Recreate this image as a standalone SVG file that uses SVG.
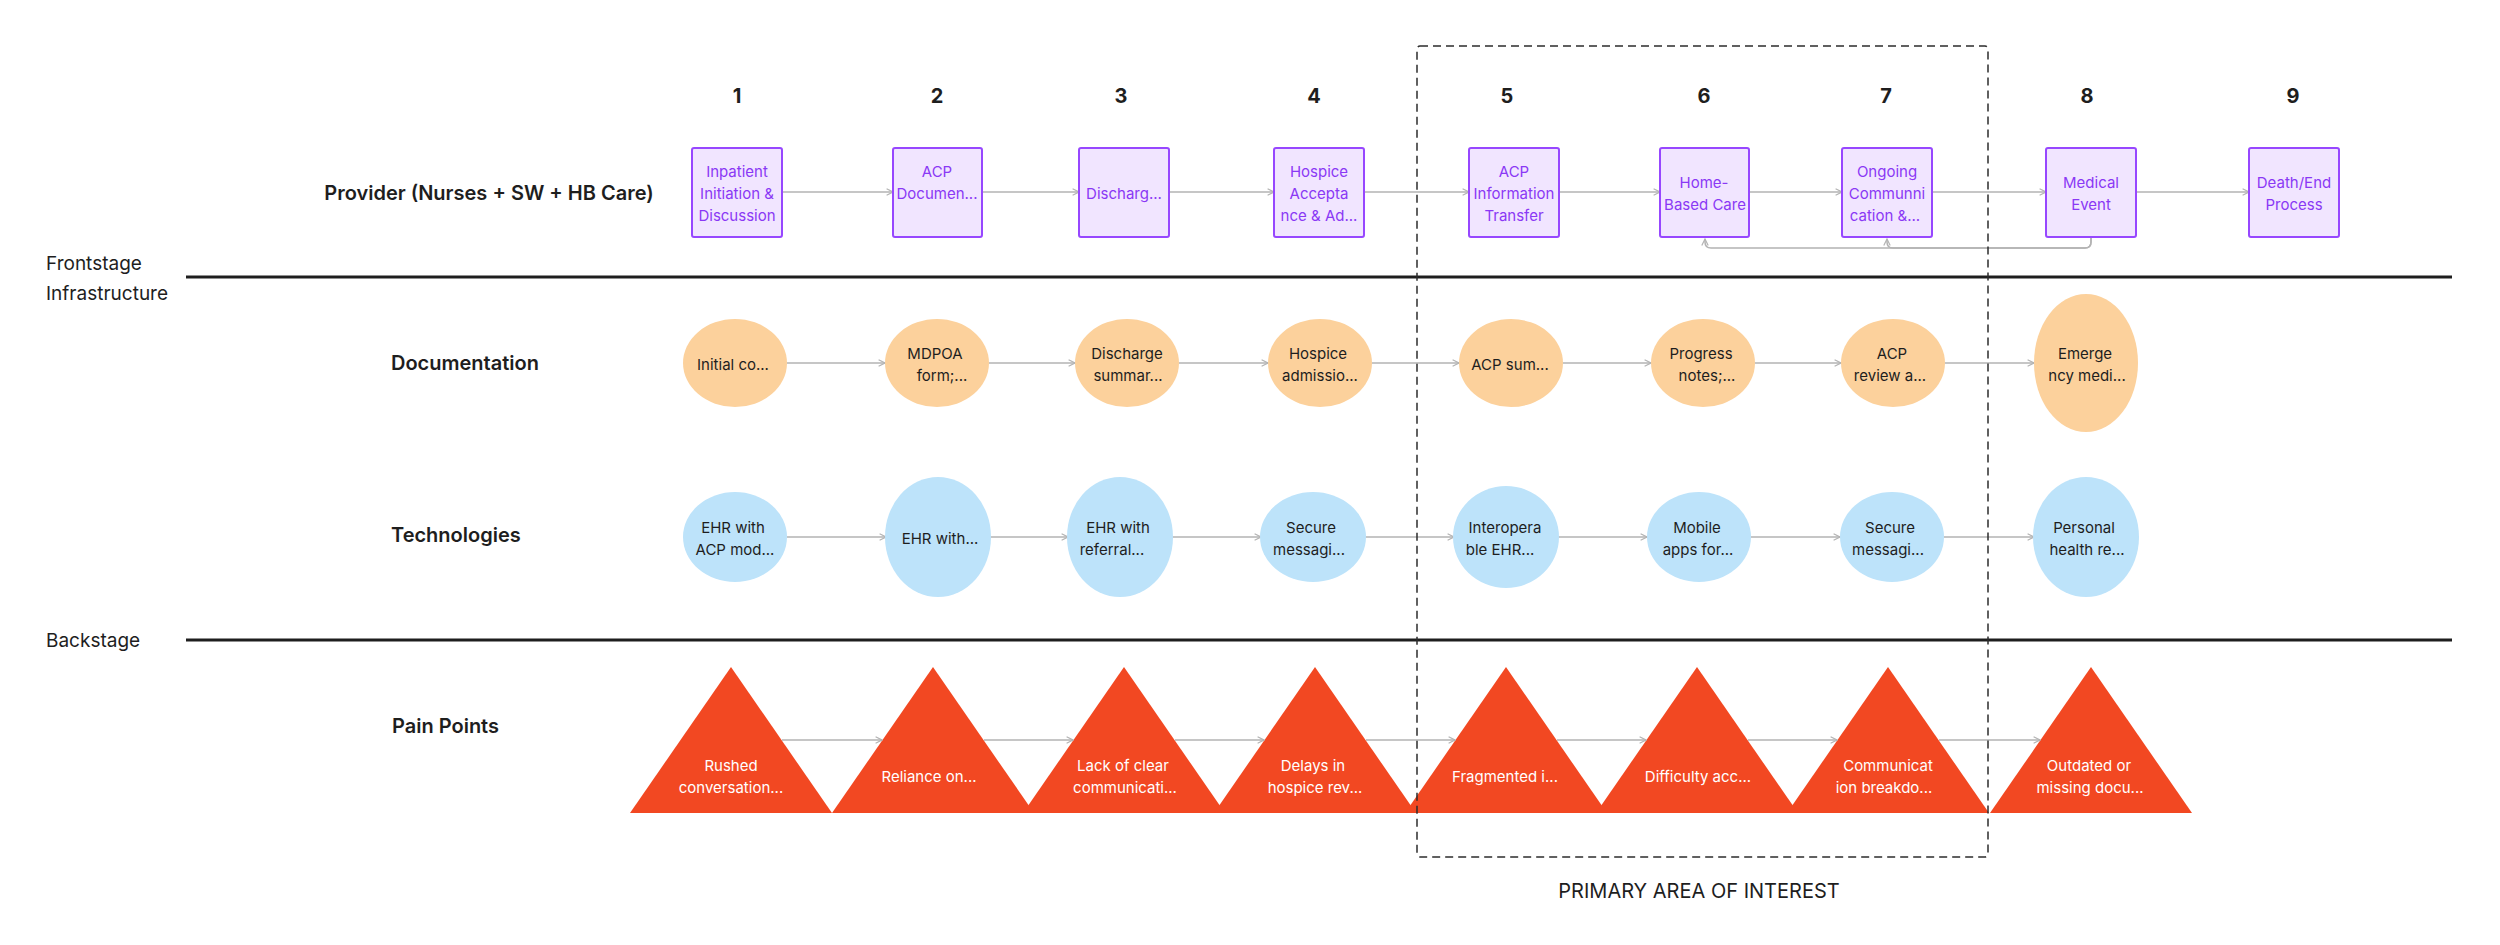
<svg xmlns="http://www.w3.org/2000/svg" width="2500" height="945" viewBox="0 0 2500 945">
<style>
text{font-family:Inter,"Noto Sans","Liberation Sans",sans-serif;dominant-baseline:central}
.num{font-size:20px;font-weight:700;fill:#1e1e1e;text-anchor:middle}
.row{font-size:20px;font-weight:600;fill:#1e1e1e}
.side{font-size:19px;fill:#1e1e1e}
.box{fill:#f1e5ff;stroke:#9747ff;stroke-width:2}
.bt{font-size:15px;fill:#8a38f5;text-anchor:middle}
.org{fill:#fcd19c}
.blu{fill:#bde3fa}
.et{font-size:15px;fill:#1e1e1e;text-anchor:middle}
.tri{fill:#f24822}
.tt{font-size:15px;fill:#ffffff;text-anchor:middle}
.con{fill:none;stroke:#b3b3b3;stroke-width:1.5;marker-end:url(#ah)}
.div{stroke:#1e1e1e;stroke-width:3}
</style>
<defs>
<marker id="ah" viewBox="0 0 10 10" refX="9" refY="5" markerWidth="8" markerHeight="8" markerUnits="userSpaceOnUse" orient="auto">
<path d="M1,1 L9,5 L1,9" fill="none" stroke="#b3b3b3" stroke-width="1.5"/>
</marker>
</defs>
<rect width="2500" height="945" fill="#ffffff"/>

<g id="labels">
<text class="num" x="737" y="96">1</text>
<text class="num" x="937" y="96">2</text>
<text class="num" x="1121" y="96">3</text>
<text class="num" x="1314" y="96">4</text>
<text class="num" x="1507" y="96">5</text>
<text class="num" x="1704" y="96">6</text>
<text class="num" x="1886" y="96">7</text>
<text class="num" x="2087" y="96">8</text>
<text class="num" x="2293" y="96">9</text>
<text class="row" x="489" y="193" text-anchor="middle">Provider (Nurses + SW + HB Care)</text>
<text class="row" x="391" y="363">Documentation</text>
<text class="row" x="391" y="535">Technologies</text>
<text class="row" x="392" y="726">Pain Points</text>
<text class="side" x="46" y="263">Frontstage</text>
<text class="side" x="46" y="293">Infrastructure</text>
<text class="side" x="46" y="640">Backstage</text>
<text x="1699" y="891" font-size="20" fill="#1e1e1e" text-anchor="middle">PRIMARY AREA OF INTEREST</text>
</g>

<g id="dividers">
<line class="div" x1="186" y1="277" x2="2452" y2="277"/>
<line class="div" x1="186" y1="640" x2="2452" y2="640"/>
</g>

<g id="pain-points">
<g id="t1"><polygon class="tri" points="731,667 832,813 630,813"/><text class="tt" x="731" y="765">Rushed</text><text class="tt" x="731" y="787">conversation...</text></g>
<g id="t2"><polygon class="tri" points="933,667 1034,813 832,813"/><text class="tt" x="929" y="776">Reliance on...</text></g>
<g id="t3"><polygon class="tri" points="1124,667 1225,813 1023,813"/><text class="tt" x="1123" y="765">Lack of clear</text><text class="tt" x="1125" y="787">communicati...</text></g>
<g id="t4"><polygon class="tri" points="1315,667 1416,813 1214,813"/><text class="tt" x="1313" y="765">Delays in</text><text class="tt" x="1315" y="787">hospice rev...</text></g>
<g id="t5"><polygon class="tri" points="1506,667 1607,813 1405,813"/><text class="tt" x="1505" y="776">Fragmented i...</text></g>
<g id="t6"><polygon class="tri" points="1697,667 1798,813 1596,813"/><text class="tt" x="1698" y="776">Difficulty acc...</text></g>
<g id="t7"><polygon class="tri" points="1888,667 1989,813 1787,813"/><text class="tt" x="1888" y="765">Communicat</text><text class="tt" x="1884" y="787">ion breakdo...</text></g>
<g id="t8"><polygon class="tri" points="2091,667 2192,813 1990,813"/><text class="tt" x="2089" y="765">Outdated or</text><text class="tt" x="2090" y="787">missing docu...</text></g>
</g>

<g id="connectors">
<line class="con" x1="782" y1="192" x2="893" y2="192"/>
<line class="con" x1="982" y1="192" x2="1079" y2="192"/>
<line class="con" x1="1169" y1="192" x2="1274" y2="192"/>
<line class="con" x1="1364" y1="192" x2="1469" y2="192"/>
<line class="con" x1="1559" y1="192" x2="1660" y2="192"/>
<line class="con" x1="1749" y1="192" x2="1842" y2="192"/>
<line class="con" x1="1932" y1="192" x2="2046" y2="192"/>
<line class="con" x1="2136" y1="192" x2="2249" y2="192"/>
<path class="con" d="M2091,238 V242 Q2091,248 2085,248 H1711 Q1705,248 1705,242 V239"/>
<path class="con" d="M2091,238 V242 Q2091,248 2085,248 H1893 Q1887,248 1887,242 V239"/>
<line class="con" x1="787" y1="363" x2="885" y2="363"/>
<line class="con" x1="989" y1="363" x2="1075" y2="363"/>
<line class="con" x1="1179" y1="363" x2="1268" y2="363"/>
<line class="con" x1="1372" y1="363" x2="1459" y2="363"/>
<line class="con" x1="1563" y1="363" x2="1651" y2="363"/>
<line class="con" x1="1755" y1="363" x2="1841" y2="363"/>
<line class="con" x1="1945" y1="363" x2="2034" y2="363"/>
<line class="con" x1="787" y1="537" x2="886" y2="537"/>
<line class="con" x1="990" y1="537" x2="1068" y2="537"/>
<line class="con" x1="1172" y1="537" x2="1261" y2="537"/>
<line class="con" x1="1365" y1="537" x2="1454" y2="537"/>
<line class="con" x1="1558" y1="537" x2="1647" y2="537"/>
<line class="con" x1="1751" y1="537" x2="1840" y2="537"/>
<line class="con" x1="1944" y1="537" x2="2034" y2="537"/>
<line class="con" x1="782" y1="740" x2="882" y2="740"/>
<line class="con" x1="984" y1="740" x2="1073" y2="740"/>
<line class="con" x1="1175" y1="740" x2="1264" y2="740"/>
<line class="con" x1="1366" y1="740" x2="1455" y2="740"/>
<line class="con" x1="1557" y1="740" x2="1646" y2="740"/>
<line class="con" x1="1748" y1="740" x2="1837" y2="740"/>
<line class="con" x1="1939" y1="740" x2="2040" y2="740"/>
</g>

<g id="providers">
<g id="p1"><rect class="box" x="692" y="148" width="90" height="89" rx="2"/><text class="bt" x="737" y="171">Inpatient</text><text class="bt" x="737" y="193">Initiation &amp;</text><text class="bt" x="737" y="215">Discussion</text></g>
<g id="p2"><rect class="box" x="893" y="148" width="89" height="89" rx="2"/><text class="bt" x="937" y="171">ACP</text><text class="bt" x="937" y="193">Documen...</text></g>
<g id="p3"><rect class="box" x="1079" y="148" width="90" height="89" rx="2"/><text class="bt" x="1124" y="193">Discharg...</text></g>
<g id="p4"><rect class="box" x="1274" y="148" width="90" height="89" rx="2"/><text class="bt" x="1319" y="171">Hospice</text><text class="bt" x="1319" y="193">Accepta</text><text class="bt" x="1319" y="215">nce &amp; Ad...</text></g>
<g id="p5"><rect class="box" x="1469" y="148" width="90" height="89" rx="2"/><text class="bt" x="1514" y="171">ACP</text><text class="bt" x="1514" y="193">Information</text><text class="bt" x="1514" y="215">Transfer</text></g>
<g id="p6"><rect class="box" x="1660" y="148" width="89" height="89" rx="2"/><text class="bt" x="1704" y="182">Home-</text><text class="bt" x="1705" y="204">Based Care</text></g>
<g id="p7"><rect class="box" x="1842" y="148" width="90" height="89" rx="2"/><text class="bt" x="1887" y="171">Ongoing</text><text class="bt" x="1887" y="193">Communni</text><text class="bt" x="1885" y="215">cation &amp;...</text></g>
<g id="p8"><rect class="box" x="2046" y="148" width="90" height="89" rx="2"/><text class="bt" x="2091" y="182">Medical</text><text class="bt" x="2091" y="204">Event</text></g>
<g id="p9"><rect class="box" x="2249" y="148" width="90" height="89" rx="2"/><text class="bt" x="2294" y="182">Death/End</text><text class="bt" x="2294" y="204">Process</text></g>
</g>

<g id="documentation">
<g id="d1"><ellipse class="org" cx="735" cy="363" rx="52" ry="44"/><text class="et" x="733" y="364">Initial co...</text></g>
<g id="d2"><ellipse class="org" cx="937" cy="363" rx="52" ry="44"/><text class="et" x="935" y="353">MDPOA</text><text class="et" x="942" y="375">form;...</text></g>
<g id="d3"><ellipse class="org" cx="1127" cy="363" rx="52" ry="44"/><text class="et" x="1127" y="353">Discharge</text><text class="et" x="1128" y="375">summar...</text></g>
<g id="d4"><ellipse class="org" cx="1320" cy="363" rx="52" ry="44"/><text class="et" x="1318" y="353">Hospice</text><text class="et" x="1320" y="375">admissio...</text></g>
<g id="d5"><ellipse class="org" cx="1511" cy="363" rx="52" ry="44"/><text class="et" x="1510" y="364">ACP sum...</text></g>
<g id="d6"><ellipse class="org" cx="1703" cy="363" rx="52" ry="44"/><text class="et" x="1701" y="353">Progress</text><text class="et" x="1707" y="375">notes;...</text></g>
<g id="d7"><ellipse class="org" cx="1893" cy="363" rx="52" ry="44"/><text class="et" x="1892" y="353">ACP</text><text class="et" x="1890" y="375">review a...</text></g>
<g id="d8"><ellipse class="org" cx="2086" cy="363" rx="52" ry="69"/><text class="et" x="2085" y="353">Emerge</text><text class="et" x="2087" y="375">ncy medi...</text></g>
</g>

<g id="technologies">
<g id="e1"><ellipse class="blu" cx="735" cy="537" rx="52" ry="45"/><text class="et" x="733" y="527">EHR with</text><text class="et" x="735" y="549">ACP mod...</text></g>
<g id="e2"><ellipse class="blu" cx="938" cy="537" rx="53" ry="60"/><text class="et" x="940" y="538">EHR with...</text></g>
<g id="e3"><ellipse class="blu" cx="1120" cy="537" rx="53" ry="60"/><text class="et" x="1118" y="527">EHR with</text><text class="et" x="1112" y="549">referral...</text></g>
<g id="e4"><ellipse class="blu" cx="1313" cy="537" rx="53" ry="45"/><text class="et" x="1311" y="527">Secure</text><text class="et" x="1309" y="549">messagi...</text></g>
<g id="e5"><ellipse class="blu" cx="1506" cy="537" rx="53" ry="51"/><text class="et" x="1505" y="527">Interopera</text><text class="et" x="1500" y="549">ble EHR...</text></g>
<g id="e6"><ellipse class="blu" cx="1699" cy="537" rx="52" ry="45"/><text class="et" x="1697" y="527">Mobile</text><text class="et" x="1698" y="549">apps for...</text></g>
<g id="e7"><ellipse class="blu" cx="1892" cy="537" rx="52" ry="45"/><text class="et" x="1890" y="527">Secure</text><text class="et" x="1888" y="549">messagi...</text></g>
<g id="e8"><ellipse class="blu" cx="2086" cy="537" rx="53" ry="60"/><text class="et" x="2084" y="527">Personal</text><text class="et" x="2087" y="549">health re...</text></g>
</g>

<g id="primary-area">
<rect x="1417" y="46" width="571" height="811" rx="3" fill="none" stroke="#2c2c2c" stroke-width="1.5" stroke-dasharray="8 5"/>
</g>
</svg>
